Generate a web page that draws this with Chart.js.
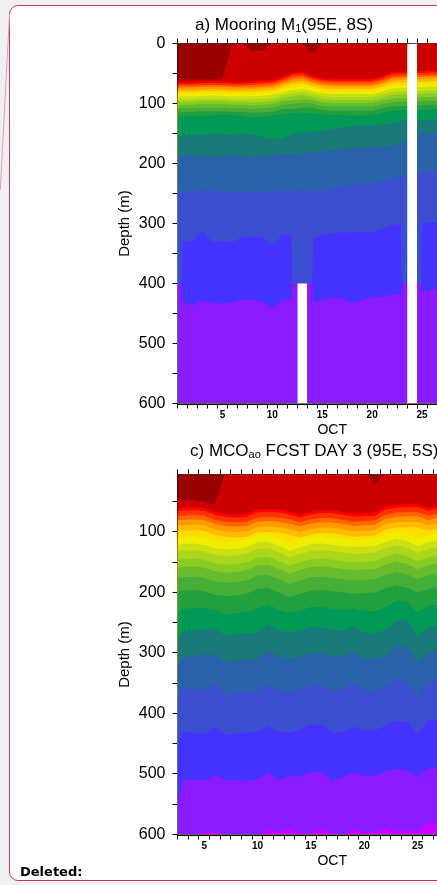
<!DOCTYPE html>
<html>
<head>
<meta charset="utf-8">
<script src="https://cdn.jsdelivr.net/npm/chart.js@4.4.1/dist/chart.umd.min.js"></script>
<style>
  html, body { margin: 0; padding: 0; width: 437px; height: 885px; overflow: hidden; background: #f1f1f1; font-family: "Liberation Sans", Arial, sans-serif; }
  #page { position: absolute; left: 9px; top: 5px; width: 640px; height: 874px; background: #fff; border: 1.5px solid #c8365a; border-radius: 9px; }
  canvas { position: absolute; left: 0; }
  .ttl { position: absolute; font-size: 17px; line-height: 17px; color: #000; white-space: nowrap; }
  .ttl sub { font-size: 11px; vertical-align: -2px; line-height: 0; }
  #deleted { position: absolute; left: 20px; top: 865px; font-family: "DejaVu Sans", sans-serif; font-size: 13px; line-height: 13px; font-weight: bold; color: #000; }
  svg { position: absolute; left: 0; top: 0; }
</style>
</head>
<body>
<div id="page"></div>
<svg width="20" height="200"><line x1="9.5" y1="14" x2="0.3" y2="190" stroke="#e4a2b4" stroke-width="1"/></svg>
<canvas id="mooring" width="490" height="440" style="top:0px"></canvas>
<canvas id="forecast" width="490" height="431" style="top:440px"></canvas>
<div class="ttl" style="left:195px; top:15.6px">a) Mooring M<sub>1</sub>(95E, 8S)</div>
<div class="ttl" style="left:190px; top:441.6px">c) MCO<sub>ao</sub> FCST DAY 3 (95E, 5S)</div>
<div id="deleted">Deleted:</div>
<script>
// isotherm depths (m) per day of October, shallow -> deep; band below level k uses bandColors[k+1]
const mooringDays = [0.5, 1, 2, 3, 4, 5, 6, 7, 8, 9, 10, 11, 12, 13, 14, 15, 16, 17, 18, 19, 20, 21, 22, 23, 24, 25, 26, 27];
const mooringL00 = [60,60,60,60,60,58,0,0,12,12,0,0,0,0,18,0,0,0,0,0,0,0,0,0,0,0,0,0];
const mooringL01 = [65,64,64,63,63,63,64,64,63,62,61,56,49,47,54,58,59,59,59,59,59,55,48,47,46,46,45,45];
const mooringL02 = [68,67,67,66,66,66,67,67,66,65,64,59,52,50,57,61,62,62,62,62,62,58,51,50,49,49,48,48];
const mooringL03 = [71,70,70,69,69,69,70,70,69,68,67,62,56,54,60,64,65,65,65,65,65,61,55,54,53,53,52,52];
const mooringL04 = [74,73,73,72,72,72,73,73,73,72,71,66,60,58,64,68,69,69,69,69,69,65,58,57,56,56,55,55];
const mooringL05 = [78,77,77,76,76,76,77,77,76,75,74,69,64,62,67,71,72,72,72,72,72,68,62,61,60,60,59,59];
const mooringL06 = [81,80,80,79,79,79,80,80,80,79,78,73,68,66,71,75,76,76,76,76,76,72,66,65,64,64,63,63];
const mooringL07 = [85,84,84,83,83,83,84,84,84,83,82,77,73,71,75,79,80,80,80,80,80,76,71,70,69,69,68,68];
const mooringL08 = [89,88,88,87,87,87,88,88,88,87,86,81,78,76,79,83,84,84,84,84,84,80,75,74,73,73,72,72];
const mooringL09 = [94,93,93,92,92,92,93,93,93,92,91,86,83,81,84,88,89,89,89,89,89,85,81,80,79,79,78,78];
const mooringL10 = [98,97,97,96,96,96,97,97,98,97,96,91,88,86,89,93,94,94,94,94,94,90,86,85,84,84,83,83];
const mooringL11 = [103,102,102,101,101,101,102,102,103,102,101,96,95,93,94,98,99,99,99,99,99,95,92,91,90,90,89,89];
const mooringL12 = [109,108,108,107,107,107,108,108,109,108,107,102,101,99,100,104,105,105,105,105,105,101,98,97,96,96,95,95];
const mooringL13 = [115,114,114,113,113,113,114,114,116,115,114,109,109,107,107,111,112,112,112,112,112,108,105,104,103,103,102,102];
const mooringL14 = [122,122,121,121,120,119,119,121,123,122,120,118,116,115,116,118,119,119,120,120,119,116,112,111,111,111,110,110];
const mooringL15 = [155,153,152,153,150,151,152,150,152,155,160,158,151,148,146,145,142,140,138,136,136,135,133,128,128,128,127,127];
const mooringL16 = [188,187,186,188,189,187,186,188,190,188,186,185,184,183,181,180,178,176,174,173,172,172,170,166,152,150,150,150];
const mooringL17 = [250,248,246,244,245,247,248,247,249,247,246,246,245,244,245,246,242,238,236,234,232,230,226,222,214,214,213,213];
// the two deepest mooring levels are sampled more finely around the missing records
const mooringDeepDays = [0.5, 0.9, 1, 2, 3, 4, 5, 6, 7, 8, 9, 10, 11, 11.9, 12, 13, 14, 14.1, 15, 16, 17, 18, 19, 20, 21, 22, 22.9, 23, 24, 24.9, 25, 26, 27];
const mooringL18 = [400,400,330,330,312,331,330,331,322,322,322,336,319,319,400,400,400,327,318,316,315,315,314,314,310,302,302,400,400,400,300,298,297];
const mooringL19 = [400,400,430,437,427,433,433,432,427,427,430,440,427,427,400,400,400,430,428,423,425,433,428,423,422,418,418,400,400,400,415,410,408];
// missing mooring records
const gapStart = [12.5, 23.5];
const gapEnd = [13.5, 24.5];
const gapTop = [400, 0];

const forecastDays = [2.5, 3, 4, 5, 6, 7, 8, 9, 10, 11, 12, 13, 14, 15, 16, 17, 18, 19, 20, 21, 22, 23, 24, 25, 26, 27];
const forecastL00 = [48,48,47,50,54,0,0,0,0,0,0,0,0,0,0,0,0,0,0,22,0,0,0,0,0,0];
const forecastL01 = [60,60,59,60,67,70,71,70,63,62,63,66,71,66,64,64,67,70,69,68,58,55,54,54,60,56];
const forecastL02 = [65,65,64,65,72,75,76,75,68,67,68,71,76,71,69,69,72,75,74,73,63,60,59,59,65,61];
const forecastL03 = [73,73,72,73,80,83,84,83,76,75,76,79,84,79,77,77,80,83,82,81,71,68,67,67,73,69];
const forecastL04 = [80,80,79,80,87,90,91,90,83,82,83,86,91,86,84,84,87,90,89,88,78,75,74,74,80,76];
const forecastL05 = [89,89,88,89,96,99,100,99,92,91,92,95,100,95,93,93,96,99,98,97,87,84,83,83,89,85];
const forecastL06 = [98,98,97,98,105,108,109,108,101,100,101,104,109,104,102,102,105,108,107,106,96,93,92,92,98,94];
const forecastL07 = [109,108,107,109,115,117,116,113,105,104,111,119,113,108,107,109,111,113,112,111,104,99,103,111,105,102];
const forecastL08 = [121,120,119,121,127,129,128,125,117,116,123,131,125,120,119,121,123,125,124,123,116,111,115,123,117,114];
const forecastL09 = [132,131,130,132,138,140,139,136,128,127,134,142,136,131,130,132,134,136,135,134,127,122,126,134,128,125];
const forecastL10 = [146,145,144,146,152,154,153,150,142,141,148,156,150,145,144,146,148,150,149,148,141,136,140,148,142,139];
const forecastL11 = [159,158,157,159,165,167,166,163,155,154,161,169,163,158,157,159,161,163,162,161,154,149,153,161,155,152];
const forecastL12 = [176,175,174,176,182,184,183,180,172,171,178,186,180,175,174,176,178,180,179,178,171,166,170,178,172,169];
const forecastL13 = [198,197,196,198,204,206,205,202,194,193,200,208,202,197,196,198,200,202,201,200,193,188,192,200,194,191];
const forecastL14 = [234,227,226,226,229,236,234,232,227,220,229,234,230,224,224,227,229,226,231,231,224,214,216,233,222,220];
const forecastL15 = [277,263,262,260,260,271,268,268,266,253,263,266,263,257,258,262,263,256,266,267,262,247,246,272,257,255];
const forecastL16 = [320,306,305,303,303,314,311,311,309,296,306,309,306,300,301,305,306,299,309,310,305,290,289,315,300,298];
const forecastL17 = [376,358,360,361,350,370,364,364,362,353,362,363,360,353,354,363,360,350,362,363,355,342,348,372,348,345];
const forecastL18 = [452,430,432,433,422,436,432,432,430,421,430,432,427,419,418,432,431,422,428,428,420,412,414,434,411,410];
const forecastL19 = [551,510,510,510,502,510,510,511,509,498,510,503,504,497,497,512,505,498,503,503,496,492,494,504,491,490];
const forecastL20 = [600,600,600,597,596,600,600,600,600,592,596,590,598,598,591,598,600,591,597,596,590,594,594,594,581,584];

const mooringDepthTicks = [0,50,100,150,200,250,300,350,400,450,500,550,600];
const forecastDepthTicks = [50,100,150,200,250,300,350,400,450,500,550,600];

const bandColors = ['#990000','#cc0000','#ff0000','#ff3300','#ff6600','#ff9900','#ffbb00','#ffdd00','#eeee00','#cce011',
  '#aad61c','#88cc22','#66bb2e','#44ae36','#22a040','#009955','#1a7a7a','#2a62aa','#3a4ecf','#4433ff','#8a1aff','#cc00ff'];

Chart.defaults.font.family = '"Liberation Sans", Arial, sans-serif';
Chart.defaults.color = '#000';

const areaBackground = {
  id: 'areaBackground',
  beforeDatasetsDraw(chart, args, opts) {
    const { ctx, chartArea: a } = chart;
    ctx.save();
    ctx.fillStyle = opts.color;
    ctx.fillRect(a.left, a.top, a.right - a.left, a.bottom - a.top);
    ctx.restore();
  }
};

// levels: list of [days, depths] pairs
function bandSets(levels) {
  const sets = levels.map(([days, depths], k) => ({
    data: days.map((d, i) => ({ x: d, y: depths[i] })),
    backgroundColor: bandColors[k + 1],
    fill: { value: 600 },
    borderWidth: 0,
    pointRadius: 0,
    tension: 0
  }));
  return sets.reverse(); // index 0 is painted last, so deepest goes first
}

function halfDays(scale) {
  const t = [];
  for (let v = scale.min; v <= scale.max; v += 0.5) t.push({ value: v });
  scale.ticks = t;
}
const dayTickColor = (ctx) => (ctx.tick && ctx.tick.value % 1 === 0 ? 'rgba(0,0,0,0)' : '#000');

function makeChart(id, datasets, xMin, yMin, depthTicks, topH) {
  return new Chart(document.getElementById(id), {
    type: 'line',
    data: { datasets },
    plugins: [areaBackground],
    options: {
      responsive: false,
      animation: false,
      events: [],
      devicePixelRatio: 1,
      layout: { padding: { left: 116, right: 2.5, top: 0, bottom: 0 } },
      plugins: {
        legend: { display: false },
        tooltip: { enabled: false },
        areaBackground: { color: bandColors[0] }
      },
      scales: {
        x: {
          type: 'linear', position: 'bottom', min: xMin, max: 31.5, z: 1,
          afterBuildTicks: halfDays,
          afterFit: (s) => { s.height = 36.5; },
          grid: { drawOnChartArea: false, tickLength: 5, tickWidth: 1, tickColor: dayTickColor },
          border: { color: '#000', width: 2 },
          ticks: {
            autoSkip: false, maxRotation: 0, minRotation: 0, padding: 1,
            font: { size: 10, weight: 'bold' },
            callback: (v) => (v % 5 === 0 ? String(v) : '')
          },
          title: { display: true, text: 'OCT', font: { size: 14 }, padding: { top: 0, bottom: 1 } }
        },
        xTop: {
          type: 'linear', position: 'top', min: xMin, max: 31.5, z: 1,
          afterBuildTicks: halfDays,
          afterFit: (s) => { s.height = topH; },
          grid: { drawOnChartArea: false, tickLength: 5, tickWidth: 1, tickColor: dayTickColor },
          border: { color: '#333', width: 1 },
          ticks: { autoSkip: false, maxRotation: 0, callback: () => '' }
        },
        y: {
          type: 'linear', reverse: true, min: yMin, max: 600, z: 1,
          afterBuildTicks: (s) => { s.ticks = depthTicks.map((v) => ({ value: v })); },
          afterFit: (s) => { s.width = 61.5; },
          grid: { drawOnChartArea: false, tickLength: 5, tickWidth: 1, tickColor: '#000' },
          border: { color: '#000', width: 2 },
          ticks: { autoSkip: false, padding: 7, font: { size: 16 }, callback: (v) => (v % 100 === 0 ? String(v) : '') },
          title: { display: true, text: 'Depth (m)', font: { size: 15 }, padding: 0 }
        }
      }
    }
  });
}

const mooringLevels = [mooringL00, mooringL01, mooringL02, mooringL03, mooringL04, mooringL05, mooringL06, mooringL07,
  mooringL08, mooringL09, mooringL10, mooringL11, mooringL12, mooringL13, mooringL14, mooringL15, mooringL16,
  mooringL17].map((d) => [mooringDays, d])
  .concat([[mooringDeepDays, mooringL18], [mooringDeepDays, mooringL19]]);
const forecastLevels = [forecastL00, forecastL01, forecastL02, forecastL03, forecastL04, forecastL05, forecastL06,
  forecastL07, forecastL08, forecastL09, forecastL10, forecastL11, forecastL12, forecastL13, forecastL14,
  forecastL15, forecastL16, forecastL17, forecastL18, forecastL19, forecastL20].map((d) => [forecastDays, d]);

const gapSets = gapStart.map((s, i) => ({
  data: [{ x: s, y: gapTop[i] }, { x: gapEnd[i], y: gapTop[i] }],
  backgroundColor: '#ffffff',
  fill: { value: 600 },
  borderWidth: 0,
  pointRadius: 0
}));

makeChart('mooring', gapSets.concat(bandSets(mooringLevels)), 0.5, 0, mooringDepthTicks, 43.5);
makeChart('forecast', bandSets(forecastLevels), 2.5, 5, forecastDepthTicks, 34.5);
</script>
</body>
</html>
